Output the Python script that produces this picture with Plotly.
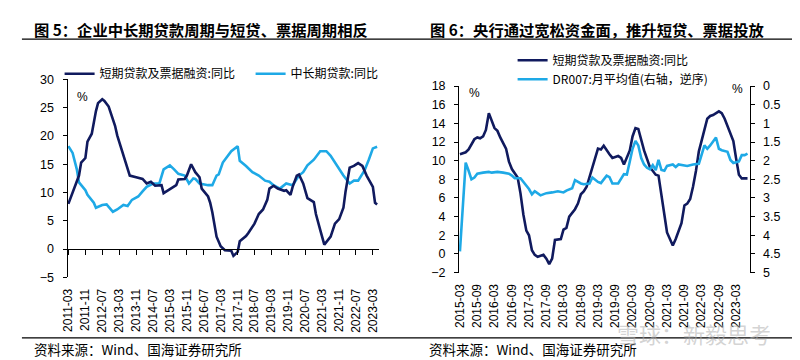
import plotly.graph_objects as go

W, H = 800, 360

# ---------------- Data: figure 5 ----------------
short_dates_5 = ["2011-03","2011-05","2011-08","2011-09","2011-11","2011-12","2012-02","2012-04","2012-05","2012-07","2012-08","2012-10","2012-11","2013-01","2013-02","2013-04","2013-06","2013-08","2013-11","2014-02","2014-04","2014-06","2014-08","2014-11","2014-12","2015-03","2015-06","2015-07","2015-10","2015-11","2016-01","2016-03","2016-05","2016-06","2016-09","2016-10","2016-11","2017-01","2017-03","2017-05","2017-08","2017-09","2017-11","2017-12","2018-03","2018-04","2018-07","2018-09","2018-11","2019-01","2019-02","2019-04","2019-06","2019-09","2019-10","2019-12","2020-01","2020-03","2020-04","2020-06","2020-08","2020-11","2020-12","2021-02","2021-04","2021-07","2021-09","2021-11","2022-01","2022-02","2022-04","2022-06","2022-08","2022-10","2022-12","2023-03","2023-04","2023-05"]
short_vals_5 = [8.0,9.9,13.0,15.3,16.1,19.0,20.4,24.4,25.8,26.5,26.2,25.2,24.1,21.8,20.1,17.8,15.0,13.0,12.7,12.4,11.6,11.9,11.2,11.3,9.9,10.6,11.3,12.3,12.4,13.0,15.0,13.6,12.7,10.7,9.3,8.2,6.5,2.2,0.5,-0.2,-0.3,-1.2,-0.5,1.4,2.3,2.8,4.5,6.2,7.0,8.7,10.7,11.2,10.7,10.3,10.4,9.6,11.0,13.0,13.2,11.6,9.0,8.3,6.2,3.4,0.8,2.2,4.5,5.3,7.3,10.2,14.4,14.7,15.2,14.7,13.0,11.0,8.2,7.9]

mid_dates_5 = ["2011-03","2011-05","2011-07","2011-08","2011-11","2011-12","2012-03","2012-04","2012-07","2012-09","2012-12","2013-02","2013-05","2013-07","2013-09","2013-12","2014-02","2014-04","2014-07","2014-10","2014-12","2015-03","2015-05","2015-07","2015-10","2015-12","2016-02","2016-03","2016-05","2016-09","2016-11","2017-01","2017-02","2017-04","2017-08","2017-09","2017-11","2017-12","2018-03","2018-06","2018-09","2018-12","2019-02","2019-04","2019-07","2019-10","2020-01","2020-04","2020-06","2020-08","2020-11","2021-02","2021-05","2021-07","2021-10","2022-01","2022-04","2022-06","2022-08","2022-11","2023-01","2023-03","2023-05"]
mid_vals_5 = [18.2,17.0,14.1,11.8,10.4,9.6,8.2,7.3,7.8,7.9,6.6,7.0,7.8,7.6,8.7,9.3,10.2,11.0,11.6,11.6,14.1,14.8,14.1,13.3,13.0,11.6,12.5,12.4,11.6,11.3,11.3,13.0,13.2,15.3,17.3,17.6,18.2,15.6,14.7,13.6,13.0,12.1,11.9,11.3,10.7,11.6,11.3,13.0,13.6,14.8,15.8,17.3,17.3,16.5,14.7,13.0,11.6,12.1,12.1,13.9,15.8,17.8,18.1]

ticks_5 = ["2011-03","2011-11","2012-07","2013-03","2013-11","2014-07","2015-03","2015-11","2016-07","2017-03","2017-11","2018-07","2019-03","2019-11","2020-07","2021-03","2021-11","2022-07","2023-03"]

# ---------------- Data: figure 6 ----------------
short_dates_6 = ["2015-03","2015-05","2015-06","2015-08","2015-09","2015-10","2015-11","2015-12","2016-01","2016-02","2016-03","2016-04","2016-05","2016-07","2016-08","2016-09","2016-11","2016-12","2017-01","2017-02","2017-03","2017-04","2017-05","2017-06","2017-08","2017-09","2017-10","2017-11","2017-12","2018-02","2018-03","2018-04","2018-05","2018-07","2018-08","2018-09","2018-10","2018-11","2018-12","2019-01","2019-02","2019-03","2019-04","2019-05","2019-07","2019-08","2019-10","2019-11","2019-12","2020-02","2020-03","2020-04","2020-05","2020-06","2020-07","2020-09","2020-10","2020-11","2020-12","2021-01","2021-02","2021-03","2021-04","2021-05","2021-06","2021-07","2021-08","2021-09","2021-10","2021-11","2021-12","2022-01","2022-02","2022-03","2022-05","2022-06","2022-07","2022-09","2022-10","2022-11","2022-12","2023-01","2023-02","2023-03","2023-04","2023-05","2023-07"]
short_vals_6 = [10.7,10.9,11.2,12.3,12.5,12.4,12.6,13.3,15.1,14.3,13.5,13.2,12.5,11.3,9.9,9.1,8.2,6.5,4.2,2.5,2.0,0.4,-0.1,-0.3,-0.1,-0.5,-1.1,-0.5,1.5,1.6,2.6,2.8,4.0,4.8,5.4,6.4,6.7,7.2,8.2,9.3,10.3,11.3,11.2,11.6,10.7,10.3,10.5,10.3,9.6,11.1,12.6,13.5,13.4,12.1,11.1,9.3,8.9,8.5,8.4,6.5,4.2,2.3,1.5,0.9,1.6,2.5,3.3,5.2,5.4,5.9,7.2,8.9,11.0,12.1,14.5,14.8,14.9,15.3,15.1,14.5,13.7,12.9,12.1,10.3,8.5,8.1,8.1]

dr_dates_6 = ["2015-03","2015-05","2015-06","2015-07","2015-08","2015-09","2015-11","2016-01","2016-02","2016-04","2016-06","2016-08","2016-09","2016-10","2016-12","2017-01","2017-03","2017-04","2017-05","2017-07","2017-09","2017-11","2018-01","2018-03","2018-04","2018-06","2018-07","2018-09","2018-10","2018-12","2019-01","2019-03","2019-04","2019-06","2019-07","2019-08","2019-10","2019-12","2020-01","2020-02","2020-03","2020-04","2020-05","2020-06","2020-07","2020-08","2020-09","2020-10","2020-11","2020-12","2021-01","2021-02","2021-03","2021-05","2021-06","2021-07","2021-09","2021-10","2021-12","2022-02","2022-03","2022-04","2022-05","2022-06","2022-08","2022-09","2022-10","2022-12","2023-01","2023-02","2023-04","2023-05","2023-06","2023-07"]
dr_vals_6 = [4.43,2.05,2.27,2.50,2.45,2.35,2.32,2.30,2.32,2.30,2.32,2.35,2.40,2.47,2.47,2.57,2.76,2.90,2.82,2.93,2.87,2.85,2.82,2.85,2.80,2.74,2.52,2.61,2.63,2.61,2.45,2.57,2.60,2.40,2.44,2.61,2.61,2.36,2.37,2.02,1.68,1.47,1.59,1.93,2.10,2.19,2.23,2.12,2.25,1.98,2.25,2.27,2.14,2.10,2.17,2.10,2.14,2.14,2.10,2.08,1.85,1.59,1.68,1.59,1.38,1.68,1.72,1.76,1.98,2.06,2.02,1.85,1.85,1.81]

ticks_6 = ["2015-03","2015-09","2016-03","2016-09","2017-03","2017-09","2018-03","2018-09","2019-03","2019-09","2020-03","2020-09","2021-03","2021-09","2022-03","2022-09","2023-03"]

left_y_ticks_6 = [-2, 0, 2, 4, 6, 8, 10, 12, 14, 16, 18]
right_y_ticks_6 = [0, 0.5, 1, 1.5, 2, 2.5, 3, 3.5, 4, 4.5, 5]
left_y_ticks_5 = [-5, 0, 5, 10, 15, 20, 25, 30]

DARK = "#101a5e"
LIGHT = "#1ea9e6"
FONT = "Liberation Sans, Arial, Noto Sans CJK SC, sans-serif"
CJK = "Noto Sans CJK SC, Liberation Sans, sans-serif"


def px(x):
    return x / W


def py(y):
    return 1 - y / H


fig = go.Figure()

fig.add_trace(go.Scatter(x=short_dates_5, y=short_vals_5, mode="lines",
                         name="短期贷款及票据融资:同比", line=dict(color=DARK, width=2.6),
                         xaxis="x3", yaxis="y", legend="legend"))
fig.add_trace(go.Scatter(x=mid_dates_5, y=mid_vals_5, mode="lines",
                         name="中长期贷款:同比", line=dict(color=LIGHT, width=2.6),
                         xaxis="x", yaxis="y", legend="legend"))
fig.add_trace(go.Scatter(x=short_dates_6, y=short_vals_6, mode="lines",
                         name="短期贷款及票据融资:同比", line=dict(color=DARK, width=2.6),
                         xaxis="x2", yaxis="y2", legend="legend2"))
fig.add_trace(go.Scatter(x=dr_dates_6, y=dr_vals_6, mode="lines",
                         name="DR007:月平均值(右轴，逆序)", line=dict(color=LIGHT, width=2.6),
                         xaxis="x2", yaxis="y3", legend="legend2"))

range5 = ["2011-02-17", "2023-05-25"]
range6 = ["2015-02-20", "2023-07-22"]
tickfont = dict(family=FONT, size=12, color="black")
ytickfont = dict(family=FONT, size=12.5, color="black")

label_axis = dict(type="date", showline=False, ticks="", showgrid=False, zeroline=False,
                  tickangle=-90, tickfont=tickfont, ticklabelstandoff=8)
line_axis = dict(type="date", showline=True, linecolor="black", linewidth=1, ticks="outside",
                 ticklen=5, tickcolor="black", showticklabels=False, showgrid=False, zeroline=False)
yline = dict(showline=True, linecolor="black", ticks="outside", ticklen=4, tickcolor="black",
             showgrid=False, zeroline=False, tickfont=ytickfont, ticklabelstandoff=6)

fig.update_layout(
    width=W, height=H, margin=dict(l=0, r=0, t=0, b=0),
    paper_bgcolor="white", plot_bgcolor="white",
    font=dict(family=FONT, color="black"),
    xaxis=dict(label_axis, domain=[px(54), px(368)], range=range5, anchor="y",
               tickvals=ticks_5, ticktext=ticks_5),
    xaxis3=dict(line_axis, domain=[px(54), px(368)], range=range5, overlaying="x",
                anchor="free", position=py(243), tickvals=ticks_5),
    yaxis=dict(yline, domain=[py(273), py(67)], range=[-5, 30], tickvals=left_y_ticks_5,
               anchor="x"),
    xaxis2=dict(label_axis, domain=[px(449), px(742)], range=range6, anchor="y2",
                tickvals=ticks_6, ticktext=ticks_6),
    xaxis4=dict(line_axis, domain=[px(449), px(742)], range=range6, overlaying="x2",
                anchor="free", position=py(251), tickvals=ticks_6),
    yaxis2=dict(yline, domain=[py(268), py(74)], range=[-2, 18], tickvals=left_y_ticks_6,
                anchor="x2"),
    yaxis3=dict(yline, range=[5, 0], autorange=False, tickvals=right_y_ticks_6,
                ticktext=[f"{v:g}" for v in right_y_ticks_6], overlaying="y2", side="right",
                anchor="x2"),
    legend=dict(orientation="h", x=px(46), y=py(46), xanchor="left", yanchor="top",
                font=dict(family=CJK, size=12, color="black"), bgcolor="rgba(0,0,0,0)",
                entrywidth=146, entrywidthmode="pixels"),
    legend2=dict(orientation="v", x=px(503), y=py(32), xanchor="left", yanchor="top",
                 font=dict(family=CJK, size=12, color="black"), bgcolor="rgba(0,0,0,0)",
                 tracegroupgap=0),
    showlegend=True,
)

annos = [
    dict(text="<b>图 5：企业中长期贷款周期与短贷、票据周期相反</b>", x=px(18), y=py(15),
         font=dict(family=CJK, size=15.3, color="black")),
    dict(text="<b>图 6：央行通过宽松资金面，推升短贷、票据投放</b>", x=px(418), y=py(15),
         font=dict(family=CJK, size=15.3, color="black")),
    dict(text="资料来源：Wind、国海证券研究所", x=px(18), y=py(348),
         font=dict(family=CJK, size=13.5, color="black")),
    dict(text="资料来源：Wind、国海证券研究所", x=px(417), y=py(348),
         font=dict(family=CJK, size=13.5, color="black")),
    dict(text="雪球：新毅思考", x=px(606), y=py(331),
         font=dict(family=CJK, size=22, color="rgba(175,175,175,0.55)")),
]
for a in annos:
    fig.add_annotation(xref="paper", yref="paper", xanchor="left", yanchor="middle",
                       showarrow=False, **a)

for txt, x, y in [("%", 69, 85), ("%", 465, 81), ("%", 730, 77)]:
    fig.add_annotation(xref="paper", yref="paper", x=px(x), y=py(y), text=txt,
                       showarrow=False, xanchor="center", yanchor="middle",
                       font=dict(family=FONT, size=12, color="black"))

for y in (25, 336):
    fig.add_shape(type="line", xref="paper", yref="paper", x0=px(8), x1=px(787),
                  y0=py(y), y1=py(y), line=dict(color="black", width=1.2))

fig.write_html("out.html")
